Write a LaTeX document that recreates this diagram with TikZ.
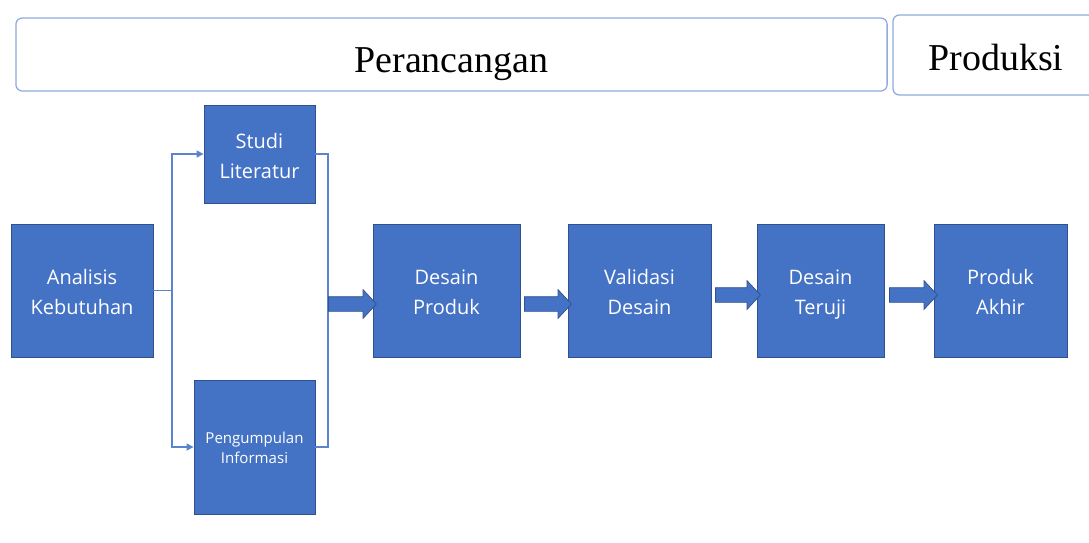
\documentclass[tikz,border=0pt]{standalone}
\usepackage{fontspec}
\setmainfont{Liberation Serif}
\newfontfamily\boxfont{Open Sans}
\usepackage{xcolor}
\usetikzlibrary{arrows.meta, shapes.arrows}

\definecolor{boxblue}{HTML}{4472C4}
\definecolor{boxedge}{HTML}{2F528F}
\definecolor{linkblue}{HTML}{5B84CF}
\definecolor{phaseedge}{HTML}{8FAADC}

\tikzset{
    phase/.style={draw=phaseedge, line width=0.9pt, rounded corners=0.16cm, inner sep=0pt},
    phasetext/.style={font=\fontsize{27}{30}\selectfont},
    stepbase/.style={draw=boxedge, fill=boxblue, line width=0.6pt, text=white,
        align=center, inner sep=0pt, minimum height=3.325cm},
    stepbox/.style={stepbase, font=\boxfont\fontsize{14.2}{21.5}\selectfont,
        execute at begin node={\rule{0pt}{38.6pt}},
        execute at end node={\rule[-3.8pt]{0pt}{3.8pt}}},
    smallstep/.style={stepbase, font=\boxfont\fontsize{10.7}{14.2}\selectfont,
        execute at begin node={\rule{0pt}{26.2pt}},
        execute at end node={\rule[-3.4pt]{0pt}{3.4pt}}},
    link/.style={draw=linkblue, line width=1.1pt},
    blockarr/.style={single arrow, draw=boxedge, fill=boxblue, line width=0.5pt,
        inner xsep=0pt, inner ysep=0.175cm, single arrow head extend=0.175cm,
        single arrow tip angle=94}
}

\begin{document}
\begin{tikzpicture}[x=0.025cm, y=-0.025cm]
            \clip (0, 0) rectangle (1089, 542);

            % fase
            \node[phase, minimum width=21.775cm, minimum height=1.825cm] (rancang) at (451.5, 54.5) {};
            \node[phasetext] (rancangtxt) at (451.5, 64.5) {Perancangan};
            \node[phase, minimum width=5.05cm, minimum height=2cm] (produksi) at (994, 55) {};
            \node[phasetext] (produksitxt) at (996, 58) {Produksi};

            % langkah
            \node[stepbox, minimum width=3.55cm] (analisis) at (82, 290.5) {Analisis\\Kebutuhan};
            \node[stepbox, minimum width=2.775cm, minimum height=2.45cm] (studi) at (259.5, 154) {Studi\\Literatur};
            \node[smallstep, minimum width=3.025cm, minimum height=3.35cm] (info) at (254.5, 447) {Pengumpulan\\Informasi};
            \node[stepbox, minimum width=3.675cm] (desain) at (446.5, 290.5) {Desain\\Produk};
            \node[stepbox, minimum width=3.575cm] (validasi) at (639.5, 290.5) {Validasi\\Desain};
            \node[stepbox, minimum width=3.175cm] (teruji) at (820.5, 290.5) {Desain\\Teruji};
            \node[stepbox, minimum width=3.325cm] (akhir) at (1000.5, 290.5) {Produk\\Akhir};

            % cabang
            \coordinate (pisah) at (172, 290.5);
            \coordinate (gabung) at (328, 300);
            \draw[link] (analisis.east) -- (pisah);
            \draw[link, -{Triangle[length=5pt, width=5pt]}] (pisah) |- (studi.west);
            \draw[link, -{Triangle[length=5pt, width=5pt]}] (pisah) |- (info.west);
            \draw[link] (studi.east) -| (gabung) |- (info.east);

            % panah blok
            \node[blockarr, minimum height=1.2cm] (p1) at (349, 304) {};
            \node[blockarr, minimum height=1.175cm] (p2) at (544.5, 304) {};
            \node[blockarr, minimum height=1.125cm] (p3) at (734.5, 295) {};
            \node[blockarr, minimum height=1.2cm] (p4) at (910, 295) {};
        \end{tikzpicture}
\end{document}
